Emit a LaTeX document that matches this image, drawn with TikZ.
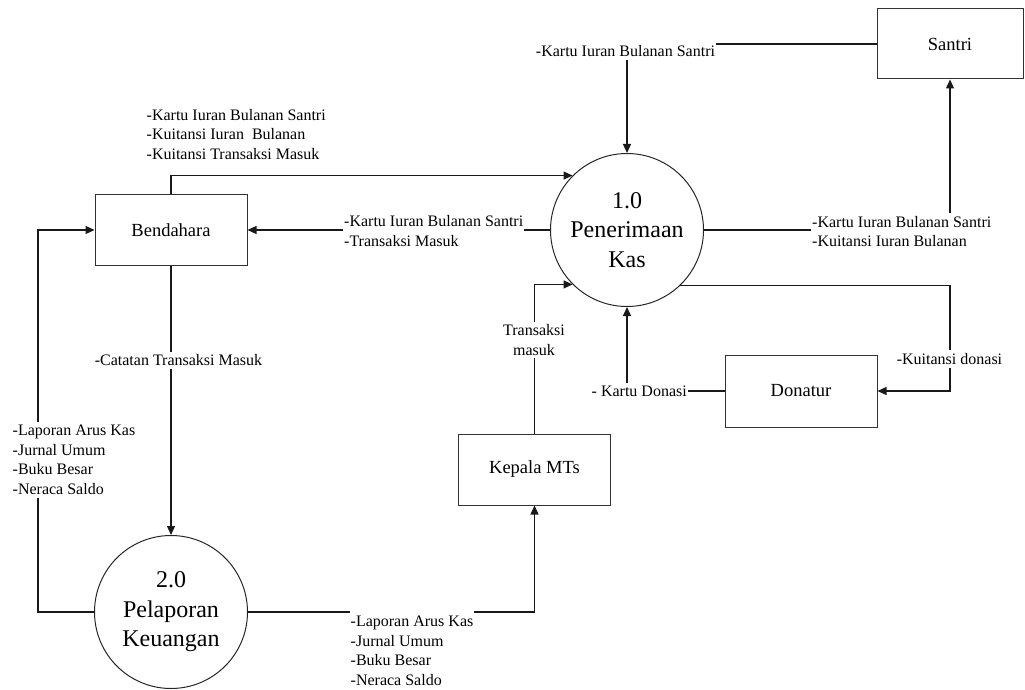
\documentclass[tikz,border=0pt]{standalone}
\usepackage{fontspec}
\setmainfont{Liberation Serif}
\newfontfamily\dfdfont{Liberation Serif}
\usetikzlibrary{arrows.meta}
\begin{document}
\begin{tikzpicture}[x=1pt,y=-1pt,
  entity/.style={draw=black!80, line width=1pt, rectangle, minimum width=152pt, minimum height=71pt, inner sep=0pt, font=\dfdfont\fontsize{18.5}{22}\selectfont},
  proc/.style={draw=black!85, line width=1pt, circle, minimum size=153pt, inner sep=0pt, align=center, font=\dfdfont\fontsize{24}{29.5}\selectfont},
  flow/.style={draw=black!90, line width=1.3pt, -{Triangle[length=9pt,width=8pt]}},
  lbl/.style={fill=white, inner xsep=1pt, inner ysep=3pt, align=left, font=\dfdfont\fontsize{16}{19.5}\selectfont},
]
\useasboundingbox (0,0) rectangle (1025,690);
% entities and processes
\node[entity, minimum width=146pt, minimum height=70pt] (santri) at (950,44) {Santri};
\node[entity] (bend) at (171,230) {Bendahara};
\node[entity, minimum height=72pt] (donatur) at (801,391) {Donatur};
\node[entity] (kepala) at (534.5,469.5) {Kepala MTs};
\node[proc] (p1) at (627,230) {1.0\\Penerimaan\\Kas};
\node[proc] (p2) at (171,612) {2.0\\Pelaporan\\Keuangan};
% connectors
\draw[flow] (santri.west) -| (p1.north);
\draw[flow] (bend.north) |- (p1.135);
\draw[flow] (p1.west) -- (bend.east);
\draw[flow] (p1.east) -| (santri.south);
\draw[flow] (p1.314) -- (p1.314 -| santri.south) |- (donatur.east);
\draw[flow] (donatur.west) -| (p1.south);
\draw[flow] (kepala.north) |- (p1.225);
\draw[flow] (bend.south) -- (p2.north);
\coordinate (lft) at (38,612);
\draw[flow] (p2.west) -- (lft) |- (bend.west);
\draw[flow] (p2.east) -| (kepala.south);
% labels
\node[lbl] (l1) at (625.5,51) {-Kartu Iuran Bulanan Santri};
\node[lbl, anchor=west] (l2) at (145.5,134.5) {-Kartu Iuran Bulanan Santri\\-Kuitansi Iuran\ \ Bulanan\\-Kuitansi Transaksi Masuk};
\node[lbl, anchor=west] (l3) at (343,231) {-Kartu Iuran Bulanan Santri\\-Transaksi Masuk};
\node[lbl, anchor=west] (l4) at (811,231.5) {-Kartu Iuran Bulanan Santri\\-Kuitansi Iuran Bulanan};
\node[lbl] (l5) at (949.5,359) {-Kuitansi donasi};
\node[lbl, anchor=east] (l6) at (688,391.5) {- Kartu Donasi};
\node[lbl, align=center] (l7) at (534,340) {Transaksi\\masuk};
\node[lbl] (l8) at (178.5,360.5) {-Catatan Transaksi Masuk};
\node[lbl, anchor=west] (l9) at (11.5,460) {-Laporan Arus Kas\\-Jurnal Umum\\-Buku Besar\\-Neraca Saldo};
\node[lbl, anchor=west, inner ysep=7pt] (l10) at (349.5,651) {-Laporan Arus Kas\\-Jurnal Umum\\-Buku Besar\\-Neraca Saldo};
\end{tikzpicture}
\end{document}
